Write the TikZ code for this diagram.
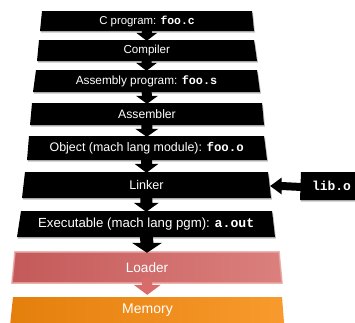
\documentclass[tikz,border=0pt]{standalone}
\usepackage{fontspec}
\setmainfont{Liberation Sans}
\setmonofont{Liberation Mono}
\usetikzlibrary{calc}
\definecolor{loaderL}{HTML}{C45A5A}
\definecolor{loaderR}{HTML}{DB807D}
\definecolor{loaderE}{HTML}{E9A3A1}
\definecolor{memL}{HTML}{E47F0C}
\definecolor{memR}{HTML}{F89A2D}
\definecolor{pinkarr}{HTML}{D86C6A}
\newcommand\fn[1]{{\ttfamily\bfseries #1}}
\newcommand\fsz[1]{\fontsize{#1}{#1}\selectfont}
% name, ytop, ybot, ltop, lbot, rtop, rbot, fill style, text
\newcommand\trap[9]{%
  \path[#8] (#4,#2) -- (#6,#2) -- (#7,#3) -- (#5,#3) -- cycle;
  \node[boxtext, minimum height={(#3-#2)*1pt}, minimum width={((#6+#7-#4-#5)/2)*1pt}]
    (#1) at ({(#4+#5+#6+#7)/4},{(#2+#3)/2}) {#9};}
% from, to, shaft half, head half, head length, colour, tip offset, start offset
\newcommand\barrow[8]{%
  \fill[#6] ($(#1.south)+(-#3,#8)$) -- ($(#2.north)+(-#3,#7-#5)$)
    -- ($(#2.north)+(-#4,#7-#5)$) -- ($(#2.north)+(0,#7)$)
    -- ($(#2.north)+(#4,#7-#5)$) -- ($(#2.north)+(#3,#7-#5)$)
    -- ($(#1.south)+(#3,#8)$) -- cycle;}
\tikzset{
  boxtext/.style={inner sep=0pt, text=white, align=center},
  blackbox/.style={fill=black, preaction={fill=black!70, opacity=0.35,
      transform canvas={xshift=1pt,yshift=-1.5pt}}},
  loaderbox/.style={left color=loaderL, right color=loaderR, draw=loaderE,
      draw opacity=0.8, line width=1.6pt},
  membox/.style={left color=memL, right color=memR},
}
\begin{document}
\begin{tikzpicture}[x=1pt,y=-1pt]
\useasboundingbox (0,0) rectangle (355,322);
\fill[white] (0,0) rectangle (355,322);
\trap{cprog}{11}{31}{42}{40}{252}{254}{blackbox}{\fsz{11.4}C program: \fn{foo.c}}
\trap{comp}{40}{61}{39}{37}{254}{257}{blackbox}{\fsz{11.6}Compiler}
\trap{asmp}{70}{92}{36}{33}{257}{260}{blackbox}{\fsz{11.8}Assembly program: \fn{foo.s}}
\trap{asmb}{103}{125}{32}{30}{262}{264}{blackbox}{\fsz{12.2}Assembler}
\trap{obj}{136}{160}{29}{27}{264}{267}{blackbox}{\fsz{12.4}Object (mach lang module): \fn{foo.o}}
\trap{link}{172}{198}{25}{22}{268}{271}{blackbox}{\fsz{12.6}Linker}
\trap{exe}{211}{237}{21}{17}{272}{275}{blackbox}{\fsz{13.2}Executable (mach lang pgm): \fn{a.out}}
\trap{load}{252}{283}{15}{12}{279}{282}{loaderbox}{\fsz{13.6}Loader}
\trap{mem}{297}{335}{13}{9}{282}{285}{membox}{}
\node[boxtext] (memtext) at (147.5,310) {\fsz{14}Memory};
\trap{lib}{172}{200}{301}{300}{362}{363}{blackbox}{\fsz{13}\fn{lib.o}}
% arrows
\barrow{cprog}{comp}{5}{10.5}{8}{black}{1}{-1}
\barrow{comp}{asmp}{5}{10.5}{8}{black}{1}{-1}
\barrow{asmp}{asmb}{5}{11}{8}{black}{1}{-1}
\barrow{asmb}{obj}{5.5}{11.5}{8}{black}{1}{-1}
\barrow{obj}{link}{5.5}{12}{9}{black}{1}{-1}
\barrow{link}{exe}{6}{12.5}{9}{black}{1}{-1}
\barrow{exe}{load}{6.5}{15}{10}{black}{1}{-1}
\barrow{load}{mem}{5}{13.5}{10}{pinkarr}{-2}{-5}
\fill[black] ($(lib.west)+(1,-3)$) -- ($(link.east)+(12,-3)$) -- ($(link.east)+(12,-7.5)$)
  -- ($(link.east)+(0.5,1)$) -- ($(link.east)+(12,9.5)$) -- ($(link.east)+(12,5)$)
  -- ($(lib.west)+(1,5)$) -- cycle;
\end{tikzpicture}
\end{document}
